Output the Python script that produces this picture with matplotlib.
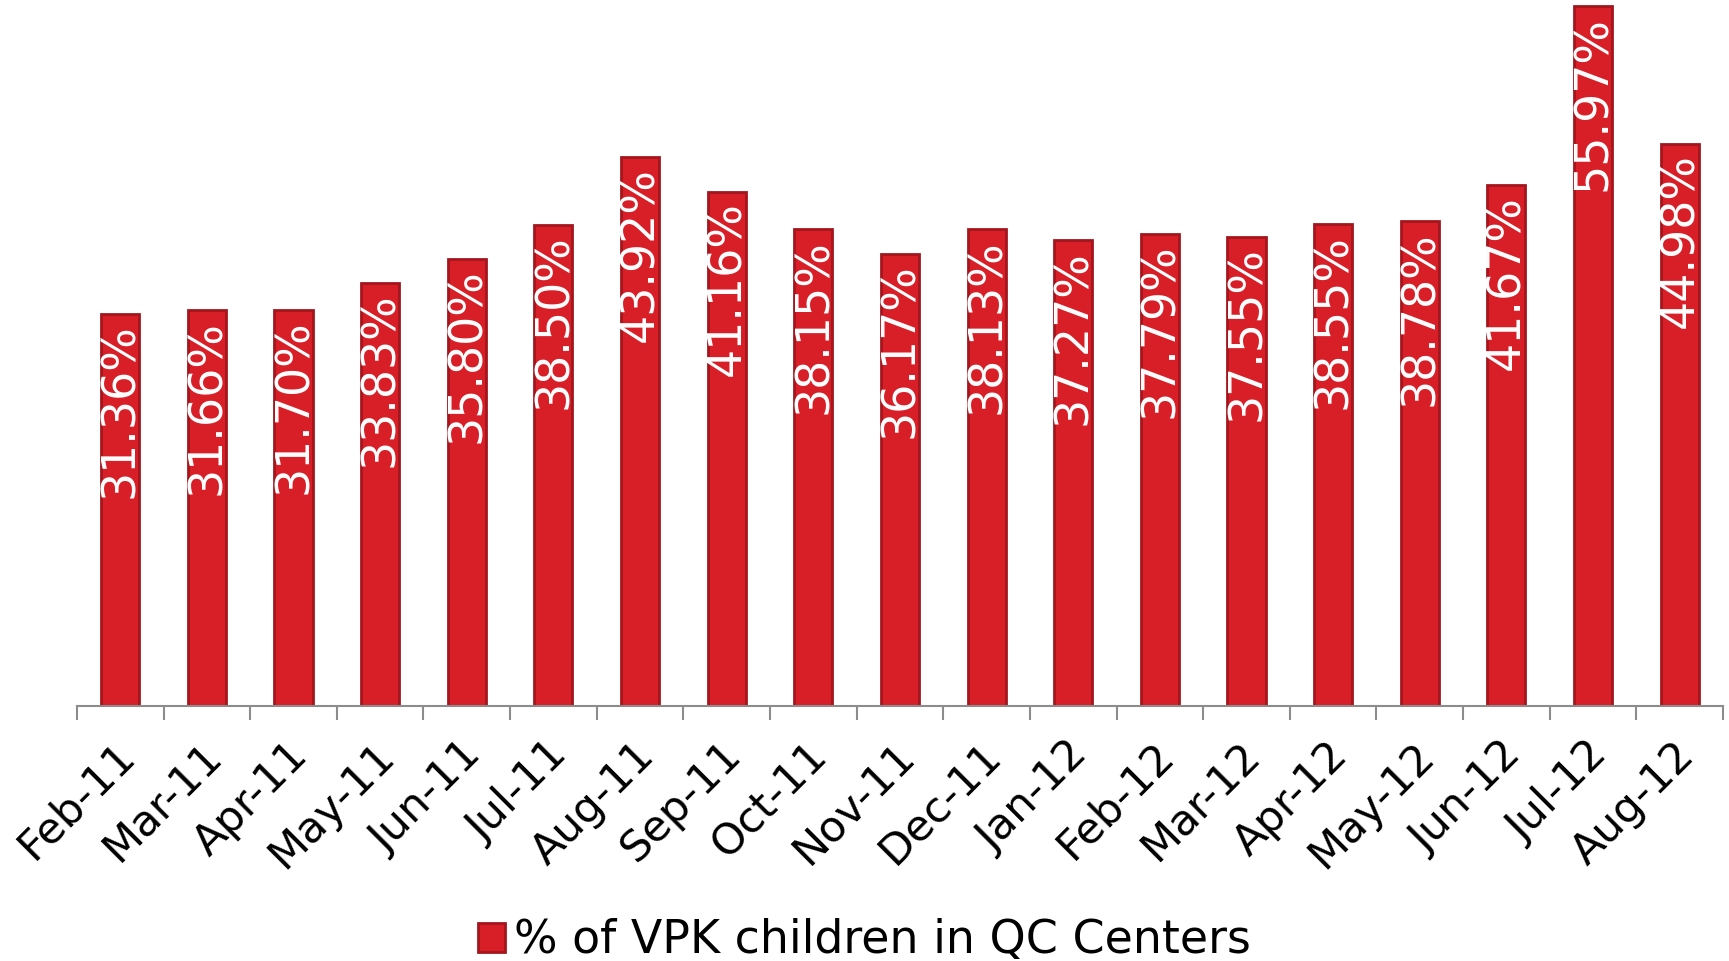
import matplotlib
matplotlib.use('Agg')
import matplotlib.pyplot as plt
import matplotlib.transforms as mtransforms
import numpy as np

# data
months = ['Feb-11', 'Mar-11', 'Apr-11', 'May-11', 'Jun-11', 'Jul-11', 'Aug-11',
          'Sep-11', 'Oct-11', 'Nov-11', 'Dec-11', 'Jan-12', 'Feb-12', 'Mar-12',
          'Apr-12', 'May-12', 'Jun-12', 'Jul-12', 'Aug-12']
pct = [31.36, 31.66, 31.70, 33.83, 35.80, 38.50, 43.92, 41.16, 38.15, 36.17,
       38.13, 37.27, 37.79, 37.55, 38.55, 38.78, 41.67, 55.97, 44.98]
series_name = '% of VPK children in QC Centers'

plt.rcParams['font.family'] = ['DejaVu Sans']

fig = plt.figure(figsize=(17.29, 9.61), dpi=100)
ax = fig.add_axes([0.0445, 0.2653, 0.952, 0.7347])

x = np.arange(len(months))
bars = ax.bar(x, pct, width=0.44, color='#D81F28', edgecolor='#A3161D',
              linewidth=2, label=series_name)

for xi, v in zip(x, pct):
    ax.annotate(f'{v:.2f}%', xy=(xi, v), xytext=(0.5, -7), textcoords='offset points',
                rotation=90, ha='center', va='top', color='white', fontsize=33)

ax.set_xlim(-0.5, len(months) - 0.5)
ax.set_ylim(0, 56.48)

for s in ['top', 'right', 'left']:
    ax.spines[s].set_visible(False)
ax.spines['bottom'].set_color('#8c8c8c')
ax.spines['bottom'].set_linewidth(1.5)
ax.set_yticks([])

ax.set_xticks(x)
ax.set_xticklabels(months, rotation=45, ha='right', rotation_mode='anchor', fontsize=31)
ax.tick_params(axis='x', which='major', length=0, pad=20)
shift = mtransforms.ScaledTranslation(-0.07, 0, fig.dpi_scale_trans)
for lab in ax.get_xticklabels():
    lab.set_transform(lab.get_transform() + shift)
ax.set_xticks(np.arange(len(months) + 1) - 0.5, minor=True)
ax.tick_params(axis='x', which='minor', length=10, width=1.5, color='#8c8c8c')

fig.legend(handles=[bars], labels=[series_name], loc='center', bbox_to_anchor=(0.5, 0.021),
           frameon=False, fontsize=33, handlelength=0.6, handleheight=0.6,
           handletextpad=0.2, borderaxespad=0)

fig.savefig('out.png', dpi=100)
